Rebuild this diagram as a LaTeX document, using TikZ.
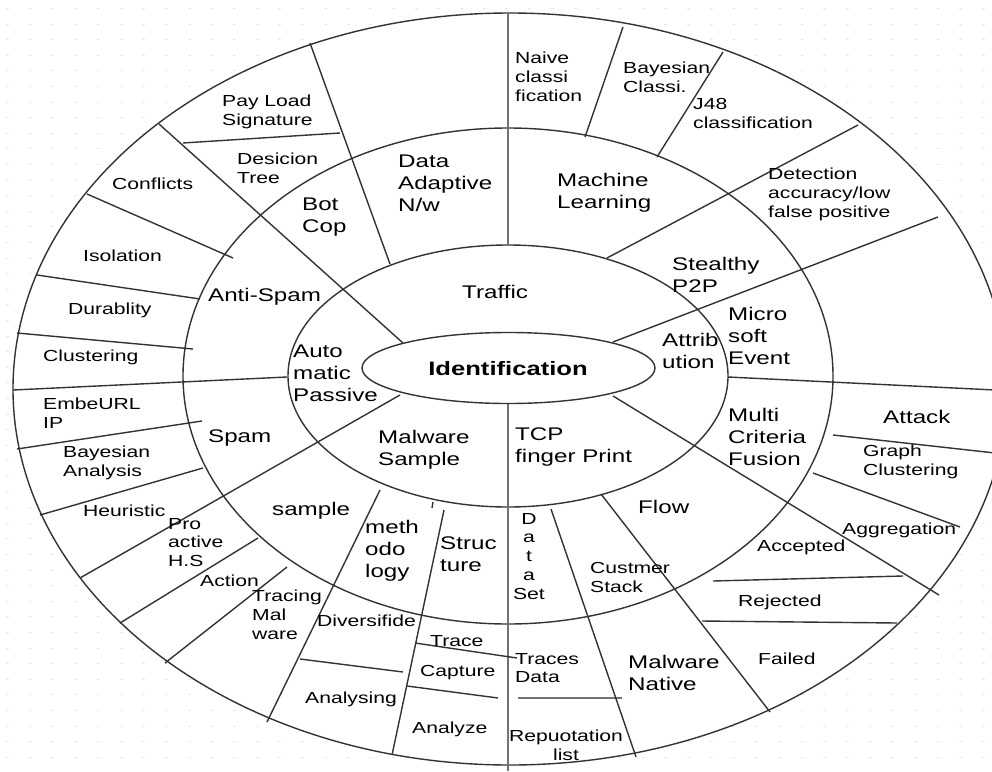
\documentclass[tikz,border=0pt]{standalone}
\usepackage{fontspec}
\setmainfont{Liberation Sans}
\newfontfamily\lblfont[FakeStretch=1.32]{Liberation Sans}
\tikzset{
  ringln/.style={line width=1.4pt, draw=black!80},
  sepln/.style={line width=1.4pt, draw=black!80},
  axisln/.style={line width=2.6pt, draw=black!55},
  gridln/.style={line width=1pt, draw=black!9, dash pattern=on 3pt off 19.7pt},
  sm/.style={font=\lblfont\fontsize{16}{18.7}\selectfont, inner sep=0pt, anchor=north west, align=left},
  lg/.style={font=\lblfont\fontsize{18.3}{22}\selectfont, inner sep=0pt, anchor=north west, align=left},
}
\begin{document}
\begin{tikzpicture}[x=1pt,y=-1pt]
\useasboundingbox (0,0) rectangle (992,771);
\clip (0,0) rectangle (992,771);
\fill[white] (0,0) rectangle (992,771);

% faint dotted slide grid
\foreach \r in {0,...,49}
  \draw[gridln] (6,{24+15.6*(\r-1)}) -- (992,{24+15.6*(\r-1)});

% rings
\draw[ringln, fill=white] (510,389) ellipse [x radius=497, y radius=376];
\draw[ringln] (508,376) ellipse [x radius=325, y radius=248];
\draw[ringln] (508,376) ellipse [x radius=220, y radius=131];

% vertical axis
\draw[axisln] (508,13) -- (508,245);
\draw[axisln] (508,404) -- (508,771);

% long spokes from the centre
\draw[sepln] (159,124) -- (403,343);
\draw[sepln] (80,578) -- (400,395);
\draw[sepln] (613,342) -- (938,217);
\draw[sepln] (613,396) -- (939,595);
\draw[sepln] (287,377) -- (13,390);
\draw[sepln] (728,377) -- (995,390);

% upper left sector
\draw[sepln] (310,43) -- (390,264);
\draw[sepln] (183,143) -- (340,133);
\draw[sepln] (87,194) -- (233,258);
\draw[sepln] (37,275) -- (200,299);
\draw[sepln] (17,333) -- (193,349);

% lower left sector
\draw[sepln] (17,449) -- (202,421);
\draw[sepln] (40,515) -- (203,468);
\draw[sepln] (120,623) -- (258,538);
\draw[sepln] (165,663) -- (287,567);
\draw[sepln] (267,722) -- (380,490);
\draw[sepln] (392,755) -- (444,510);
\draw[sepln] (433,502) -- (432,508);
\draw[sepln] (300,659) -- (403,672);
\draw[sepln] (415,643) -- (517,658);
\draw[sepln] (407,686) -- (498,698);

% lower right sector
\draw[axisln, line width=1.8pt] (518,698) -- (622,698);
\draw[sepln] (551,509) -- (636,757);
\draw[sepln] (601,494) -- (770,712);
\draw[sepln] (713,581) -- (903,576);
\draw[sepln] (702,621) -- (897,623);
\draw[sepln] (813,473) -- (960,527);
\draw[sepln] (833,435) -- (995,453);

% upper right sector
\draw[sepln] (858,125) -- (607,258);
\draw[sepln] (723,52) -- (657,157);
\draw[sepln] (623,27) -- (585,137);

% centre
\draw[ringln, fill=white] (508.5,368) ellipse [x radius=146.5, y radius=35.5];
\node[font=\lblfont\bfseries\fontsize{19.4}{22}\selectfont, inner sep=0pt] (ident) at (508,369) {Identification};

% labels, outer ring
\node[sm] (naive) at (515,52) {Naive\\classi\\fication};
\node[sm] (bayc) at (623,62) {Bayesian\\Classi.};
\node[sm] (j48) at (693,98) {J48\\classification};
\node[sm] (detect) at (768,168) {Detection\\accuracy/low\\false positive};
\node[sm] (payload) at (222,95) {Pay Load\\Signature};
\node[sm] (desic) at (237,153) {Desicion\\Tree};
\node[sm] (confl) at (112,178) {Conflicts};
\node[sm] (isol) at (83,250) {Isolation};
\node[sm] (durab) at (68,303) {Durablity};
\node[sm] (clust) at (43,350) {Clustering};
\node[sm] (embe) at (43,398) {EmbeURL\\IP};
\node[sm] (bayan) at (63,446) {Bayesian\\Analysis};
\node[sm] (heur) at (83,505) {Heuristic};
\node[sm] (proact) at (168,518) {Pro\\active\\H.S};
\node[sm] (action) at (200,575) {Action};
\node[sm] (tracing) at (252,590) {Tracing\\Mal\\ware};
\node[sm] (divers) at (317,615) {Diversifide};
\node[sm] (trace) at (430,635) {Trace};
\node[sm] (capture) at (420,665) {Capture};
\node[sm] (analysing) at (305,692) {Analysing};
\node[sm] (analyze) at (412,722) {Analyze};
\node[sm] (tracesd) at (515,653) {Traces\\Data};
\node[sm, anchor=north, align=center] (repu) at (566,730) {Repuotation\\list};
\node[sm, anchor=north, align=center] (dataset) at (529,513) {D\\a\\t\\a\\Set};
\node[sm] (custmer) at (590,562) {Custmer\\Stack};
\node[sm] (failed) at (758,653) {Failed};
\node[sm] (rejected) at (738,595) {Rejected};
\node[sm] (accepted) at (757,540) {Accepted};
\node[sm] (aggreg) at (842,523) {Aggregation};
\node[sm] (graph) at (863,445) {Graph\\Clustering};
\node[lg] (attack) at (883,410) {Attack};

% labels, middle ring
\node[lg] (ml) at (557,173) {Machine\\Learning};
\node[lg] (dataad) at (398,155) {Data\\Adaptive\\N/w};
\node[lg] (botcop) at (302,198) {Bot\\Cop};
\node[lg] (antispam) at (208,288) {Anti-Spam};
\node[lg] (spam) at (208,430) {Spam};
\node[lg] (sample) at (272,502) {sample};
\node[lg] (method) at (365,520) {meth\\odo\\logy};
\node[lg] (struct) at (440,537) {Struc\\ture};
\node[lg] (flow) at (638,500) {Flow};
\node[lg] (malnat) at (628,655) {Malware\\Native};
\node[lg] (multi) at (728,408) {Multi\\Criteria\\Fusion};
\node[lg] (micro) at (728,307) {Micro\\soft\\Event};
\node[lg] (stealth) at (672,257) {Stealthy\\P2P};

% labels, inner ring
\node[lg] (traffic) at (462,285) {Traffic};
\node[lg] (auto) at (293,345) {Auto\\matic\\Passive};
\node[lg] (malsam) at (378,430) {Malware\\Sample};
\node[lg] (tcp) at (515,428) {TCP\\finger Print};
\node[lg] (attrib) at (662,333) {Attrib\\ution};
\end{tikzpicture}
\end{document}
